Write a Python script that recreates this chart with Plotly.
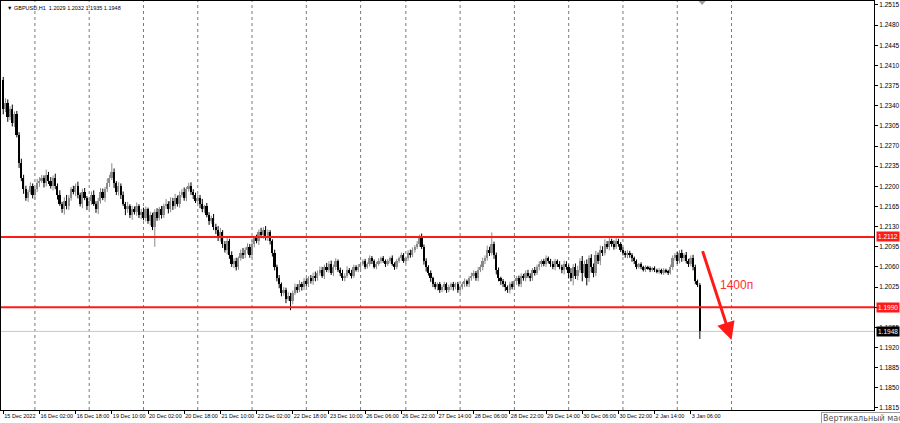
import plotly.graph_objects as go

first_open = 1.2385
closes = [
1.2335, 1.2345, 1.2320, 1.2335, 1.2310,
1.2325, 1.2290, 1.2240, 1.2215,
1.2195, 1.2180, 1.2190, 1.2200, 1.2185, 1.2195, 1.2205,
1.2210, 1.2215, 1.2205, 1.2220, 1.2210, 1.2200, 1.2215,
1.2200, 1.2185, 1.2170, 1.2160, 1.2175, 1.2165, 1.2180, 1.2195,
1.2190, 1.2200, 1.2185, 1.2170, 1.2190, 1.2180, 1.2165, 1.2175,
1.2185, 1.2170, 1.2160, 1.2175, 1.2190, 1.2180, 1.2195, 1.2205,
1.2215, 1.2225, 1.2205, 1.2190, 1.2200, 1.2185, 1.2170, 1.2160,
1.2165, 1.2150, 1.2160, 1.2155, 1.2165, 1.2150, 1.2155, 1.2145,
1.2160, 1.2140, 1.2150, 1.2130, 1.2155, 1.2145, 1.2160, 1.2150,
1.2165, 1.2170, 1.2160, 1.2175, 1.2165, 1.2180, 1.2170, 1.2185,
1.2190, 1.2180, 1.2195, 1.2200, 1.2190, 1.2185, 1.2175, 1.2180,
1.2170, 1.2160, 1.2165, 1.2150, 1.2140, 1.2145, 1.2130, 1.2125,
1.2110, 1.2120, 1.2100, 1.2090, 1.2105, 1.2080, 1.2065, 1.2070,
1.2060, 1.2075, 1.2085, 1.2080, 1.2090, 1.2095, 1.2080, 1.2100,
1.2110, 1.2105, 1.2120, 1.2115, 1.2125, 1.2110, 1.2120, 1.2105,
1.2085, 1.2060, 1.2040, 1.2030, 1.2015, 1.2020, 1.2005, 1.2010,
1.2000, 1.2015, 1.2025, 1.2020, 1.2030, 1.2025, 1.2035, 1.2030,
1.2040, 1.2035, 1.2045, 1.2040, 1.2050, 1.2055, 1.2045, 1.2060,
1.2055, 1.2065, 1.2050, 1.2060, 1.2070, 1.2055, 1.2050, 1.2040,
1.2045, 1.2055, 1.2050, 1.2045, 1.2060, 1.2055, 1.2060, 1.2065,
1.2070, 1.2060, 1.2065, 1.2075, 1.2070, 1.2060, 1.2065, 1.2070,
1.2075, 1.2070, 1.2065, 1.2070, 1.2075, 1.2065, 1.2060, 1.2070,
1.2075, 1.2080, 1.2070, 1.2075, 1.2085, 1.2080, 1.2090, 1.2095,
1.2100, 1.2110, 1.2095, 1.2070, 1.2060, 1.2050, 1.2040, 1.2030,
1.2025, 1.2030, 1.2020, 1.2025, 1.2030, 1.2020, 1.2025, 1.2030,
1.2025, 1.2030, 1.2020, 1.2025, 1.2030, 1.2035, 1.2030, 1.2040,
1.2045, 1.2050, 1.2040, 1.2055, 1.2060, 1.2070, 1.2075, 1.2090,
1.2085, 1.2100, 1.2080, 1.2055, 1.2040, 1.2035, 1.2030, 1.2025,
1.2020, 1.2030, 1.2025, 1.2035, 1.2040, 1.2030, 1.2045, 1.2040,
1.2050, 1.2045, 1.2040, 1.2055, 1.2050, 1.2060, 1.2065, 1.2070,
1.2065, 1.2075, 1.2070, 1.2065, 1.2060, 1.2070, 1.2065, 1.2060,
1.2055, 1.2065, 1.2060, 1.2050, 1.2040, 1.2060, 1.2045, 1.2055,
1.2070, 1.2050, 1.2065, 1.2040, 1.2075, 1.2060, 1.2050, 1.2080,
1.2070, 1.2090, 1.2085, 1.2100, 1.2095, 1.2105, 1.2100, 1.2095,
1.2105, 1.2100, 1.2090, 1.2085, 1.2080, 1.2085, 1.2080, 1.2075,
1.2070, 1.2060, 1.2065, 1.2060, 1.2055, 1.2060, 1.2058, 1.2055,
1.2058, 1.2055, 1.2052, 1.2055, 1.2050, 1.2055, 1.2052, 1.2050,
1.2060, 1.2075, 1.2080, 1.2070, 1.2085, 1.2075, 1.2080, 1.2070,
1.2065, 1.2075, 1.2060, 1.2035, 1.2029, 1.1948,
]

upper_wick_pips = [
5,8,6,4,7,5,6,4,8,5, 6,4,7,5,3,8,6,5,4,9, 5,6,4,7,5,8,3,6,10,5,
4,6,5,8,4,6,7,3,5,6, 8,4,5,7,6,4,9,5,15,6, 4,7,5,6,3,8,4,6,5,7,
4,6,8,5,3,6,4,5,7,4, 6,5,8,4,6,5,7,4,6,5, 8,4,6,7,5,4,6,5,8,3,
6,5,4,7,5,6,8,4,5,6, 4,7,5,6,3,5,8,4,6,5, 7,4,6,5,8,4,6,5,4,3,
5,4,6,3,5,4,6,5,4,6, 5,7,4,6,5,4,6,5,7,4, 6,5,4,7,5,6,4,5,3,4,
5,4,6,3,5,4,3,5,4,3, 4,3,5,4,3,4,5,3,4,3, 4,3,5,3,4,3,5,4,3,4,
5,4,3,5,6,8,4,5,3,4, 3,4,3,4,3,4,3,4,3,4, 3,4,3,4,5,3,4,5,4,3,
5,4,6,5,7,5,20,4,5,4, 3,4,5,3,4,5,3,4,5,4, 3,4,5,4,3,5,4,5,3,4,
5,3,4,5,4,3,5,4,6,5, 4,8,5,6,7,5,9,6,8,5, 7,6,8,5,7,6,8,5,6,4,
6,5,4,3,4,3,4,3,4,3, 3,2,3,2,3,2,3,2,3,2, 3,2,3,2,3,4,5,4,6,4,
5,4,6,4,5,6,4,3,3,
]

lower_wick_pips = [
10,6,8,5,6,7,5,8,6,8, 5,7,4,6,8,5,6,4,7,5, 6,4,7,5,8,4,6,9,5,6,
5,4,7,6,5,8,4,6,5,7, 4,6,8,5,4,7,5,6,4,8, 5,6,7,4,10,6,5,8,4,6,
5,7,4,6,5,8,6,35,5,4, 6,5,4,7,5,6,4,5,7,4, 5,6,4,5,7,4,6,8,5,6,
4,7,5,6,8,5,6,7,5,8, 6,5,7,6,5,4,6,5,7,4, 5,6,4,7,5,6,4,5,6,7,
6,5,7,6,5,8,4,15,5,4, 5,4,6,5,4,5,4,6,5,4, 5,4,6,4,5,4,6,5,4,6,
4,5,4,3,5,4,3,4,5,3, 4,3,4,5,3,4,3,4,3,5, 3,4,3,5,4,3,4,3,5,4,
4,3,5,4,5,4,6,8,5,6, 5,4,6,5,4,6,5,4,5,6, 4,5,6,4,5,4,5,4,5,4,
5,4,6,5,4,6,5,6,8,5, 6,5,7,5,6,4,5,6,4,5, 4,5,4,5,4,5,4,6,5,4,
5,4,5,4,6,5,4,6,8,5, 10,5,12,6,8,5,15,7,12,6, 10,8,6,5,7,6,5,4,6,5,
5,4,5,4,5,4,5,4,6,5, 4,3,4,3,4,3,4,3,4,3, 4,3,4,3,4,3,5,4,5,4,
6,5,4,5,4,6,5,4,13,
]

tick_labels = ["15 Dec 2022", "16 Dec 02:00", "16 Dec 18:00", "19 Dec 10:00", "20 Dec 02:00",
               "20 Dec 18:00", "21 Dec 10:00", "22 Dec 02:00", "22 Dec 18:00", "23 Dec 10:00",
               "26 Dec 06:00", "26 Dec 22:00", "27 Dec 14:00", "28 Dec 06:00", "28 Dec 22:00",
               "29 Dec 14:00", "30 Dec 06:00", "30 Dec 22:00", "2 Jan 14:00", "3 Jan 06:00"]
tick_bars = [i * 16 for i in range(len(tick_labels))]
day_start_bars = [14, 38, 62, 86, 110, 134, 158, 178, 202, 226, 250, 274, 298, 322]
price_ticks = [round(1.1815 + 0.0035 * k, 4) for k in range(21)]

resistance = 1.2112
support = 1.1990
last_price = 1.1948
arrow_start = (309, 1.2090)
arrow_end = (322, 1.1933)
move_label = "1400п"
title_text = "▼ GBPUSD,H1  1.2029 1.2032 1.1935 1.1948"
scale_hint = "Вертикальный масштаб"
shift_marker_bar = 309

bars = list(range(len(closes)))
opens = [first_open] + closes[:-1]
highs = [max(o, c) + u * 0.0001 for o, c, u in zip(opens, closes, upper_wick_pips)]
lows = [min(o, c) - d * 0.0001 for o, c, d in zip(opens, closes, lower_wick_pips)]

BULL = "#8a8a8a"
BEAR = "#000000"

fig = go.Figure()
for is_bull, color in ((True, BULL), (False, BEAR)):
    idx = [i for i in bars if (closes[i] >= opens[i]) == is_bull]
    wx, wy = [], []
    for i in idx:
        wx += [i, i, None]
        wy += [lows[i], highs[i], None]
    fig.add_trace(go.Scatter(x=wx, y=wy, mode="lines", line=dict(color=color, width=1),
                             hoverinfo="skip", showlegend=False))
    fig.add_trace(go.Bar(x=idx, base=[min(opens[i], closes[i]) for i in idx],
                         y=[max(abs(closes[i] - opens[i]), 0.00008) for i in idx],
                         width=0.75, marker=dict(color=color, line=dict(width=0)),
                         hoverinfo="skip", showlegend=False))

shapes = []
for b in day_start_bars:
    shapes.append(dict(type="line", xref="x", yref="paper", x0=b, x1=b, y0=0, y1=1,
                       line=dict(color="#7a7a7a", width=1, dash="dot"), layer="below"))
shapes.append(dict(type="line", xref="paper", yref="y", x0=0, x1=1, y0=last_price, y1=last_price,
                   line=dict(color="#c8c8c8", width=1), layer="below"))
for lvl in (resistance, support):
    shapes.append(dict(type="line", xref="paper", yref="y", x0=0, x1=1, y0=lvl, y1=lvl,
                       line=dict(color="#ff1a1a", width=2)))
s = shift_marker_bar
shapes.append(dict(type="path", xref="x", yref="paper",
                   path=f"M {s-1.6},1 L {s+1.6},1 L {s},0.99 Z",
                   fillcolor="#a0a0a0", line=dict(width=0)))

annotations = [
    dict(xref="paper", yref="paper", x=0.005, y=0.996, xanchor="left", yanchor="top",
         text=title_text, showarrow=False, font=dict(size=5.5, color="#000000", family="Liberation Sans")),
    dict(x=arrow_end[0], y=arrow_end[1], ax=arrow_start[0], ay=arrow_start[1],
         xref="x", yref="y", axref="x", ayref="y", text="", showarrow=True,
         arrowhead=2, arrowsize=1.2, arrowwidth=3, arrowcolor="#ff1a1a"),
    dict(x=324, y=1.2029, xref="x", yref="y", text=move_label, showarrow=False,
         font=dict(size=12, color="#ff3030", family="Liberation Sans")),
]
for lvl, bg, fg in ((resistance, "#ff1a1a", "#ffffff"), (support, "#ff1a1a", "#ffffff"),
                    (last_price, "#000000", "#ffffff")):
    annotations.append(dict(xref="paper", yref="y", x=1, y=lvl, xanchor="left", xshift=2,
                            text=f"{lvl:.4f}", showarrow=False, bgcolor=bg, borderpad=1,
                            font=dict(size=6.5, color=fg, family="Liberation Sans")))
annotations.append(dict(xref="paper", yref="paper", x=0.939, y=-0.004, xanchor="left", yanchor="top",
                        text=scale_hint, showarrow=False, bgcolor="#ffffff",
                        bordercolor="#9a9a9a", borderwidth=1, borderpad=1,
                        font=dict(size=8, color="#555555", family="DejaVu Sans")))

fig.update_layout(
    width=900, height=423,
    margin=dict(l=0, r=24, t=1, b=13),
    paper_bgcolor="#ffffff", plot_bgcolor="#ffffff",
    shapes=shapes, annotations=annotations, barmode="overlay", bargap=0,
    xaxis=dict(range=[-1, 385], tickmode="array", tickvals=tick_bars, ticktext=tick_labels,
               tickangle=0, ticks="outside", ticklen=3, tickcolor="#000000", showgrid=False,
               zeroline=False, showline=True, linecolor="#000000", mirror=True,
               ticklabelposition="outside right",
               tickfont=dict(size=5.5, family="Liberation Sans", color="#000000")),
    yaxis=dict(range=[1.18115, 1.25219], side="right", tickmode="array", tickvals=price_ticks,
               ticktext=[f"{p:.4f}" for p in price_ticks], ticks="outside", ticklen=3,
               tickcolor="#000000", showgrid=False, zeroline=False, showline=True,
               linecolor="#000000", mirror=True,
               tickfont=dict(size=6.5, family="Liberation Sans", color="#000000")),
)

fig.write_html("out.html", config={"displayModeBar": False},
               post_script="document.body.style.margin='0';document.body.style.overflow='hidden';")
